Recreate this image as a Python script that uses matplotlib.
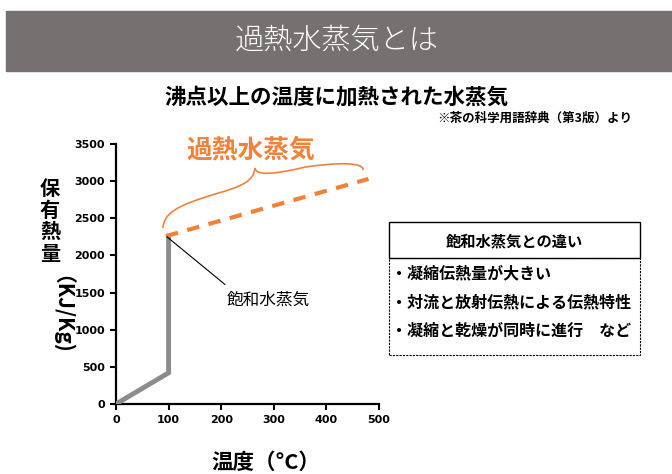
import matplotlib.pyplot as plt
from matplotlib.patches import Rectangle, PathPatch
from matplotlib.path import Path

plt.rcParams['font.family'] = ['Noto Sans CJK JP', 'DejaVu Sans']

# saturated water: heating up to the boiling point, then evaporation
sat_temp = [0, 100, 100]
sat_heat = [0, 420, 2260]

# superheated steam
sup_temp = [95, 480]
sup_heat = [2260, 3030]

x_ticks = [0, 100, 200, 300, 400, 500]
y_ticks = [0, 500, 1000, 1500, 2000, 2500, 3000, 3500]

diff_title = "飽和水蒸気との違い"
diff_items = ["・凝縮伝熱量が大きい",
              "・対流と放射伝熱による伝熱特性",
              "・凝縮と乾燥が同時に進行　など"]

W, H = 672, 474
ORANGE = '#f0823a'


def fx(px):
    return px / W


def fy(py):
    return 1 - py / H


fig = plt.figure(figsize=(W / 100, H / 100), dpi=100)

# banner
fig.patches.append(Rectangle((fx(6), fy(71)), fx(672 - 6), 60 / H,
                             transform=fig.transFigure, color='#767170', zorder=0))
fig.text(fx(337), fy(40), "過熱水蒸気とは", color='white', fontsize=21,
         fontweight='light', ha='center', va='center')

fig.text(fx(336), fy(97), "沸点以上の温度に加熱された水蒸気", fontsize=15.5,
         fontweight='bold', ha='center', va='center')
fig.text(fx(632), fy(118), "※茶の科学用語辞典（第3版）より", fontsize=9,
         fontweight='bold', ha='right', va='center')

ax = fig.add_axes([fx(116), fy(404), 263 / W, 260 / H])
ax.plot(sat_temp, sat_heat, color='#8c8c8c', lw=3.5, solid_joinstyle='miter', zorder=3)
ax.plot(sup_temp, sup_heat, color=ORANGE, lw=3, dashes=(3, 2.3), zorder=3)

ax.set_xlim(0, 500)
ax.set_ylim(0, 3500)
ax.set_xticks(x_ticks)
ax.set_yticks(y_ticks)
ax.tick_params(labelsize=8, width=1.5, length=4, direction='out', pad=4)
for lab in ax.get_xticklabels() + ax.get_yticklabels():
    lab.set_fontweight('bold')
    lab.set_family(['DejaVu Sans'])
for s in ['top', 'right']:
    ax.spines[s].set_visible(False)
for s in ['left', 'bottom']:
    ax.spines[s].set_linewidth(1.6)

# curly brace over the superheated range
verts = [(89, 2369),
         (92, 2560), (110, 2660), (190, 2830),
         (240, 2930), (262, 3000), (264, 3177),
         (267, 3070), (300, 3090), (360, 3190),
         (420, 3250), (470, 3260), (470, 3150)]
codes = [Path.MOVETO] + [Path.CURVE4] * 12
ax.add_patch(PathPatch(Path(verts, codes), fill=False, edgecolor=ORANGE,
                       lw=1.2, clip_on=False))
ax.text(257, 3420, "過熱水蒸気", color=ORANGE, fontsize=18.5, fontweight='bold',
        ha='center', va='center', clip_on=False)

# leader line to the saturated steam label
ax.plot([97, 207], [2250, 1610], color='black', lw=0.8, zorder=4)
ax.text(289, 1400, "飽和水蒸気", fontsize=12, ha='center', va='center')

# axis labels
fig.text(fx(50), fy(221), "保\n有\n熱\n量", fontsize=14.5, fontweight='bold',
         ha='center', va='center', linespacing=1.05)
fig.text(fx(50), fy(320), "（KJ/Kg)", fontsize=15, fontweight='bold',
         ha='center', va='center', rotation=-90)
fig.text(fx(266), fy(462), "温度（°C）", fontsize=15.5, fontweight='bold',
         ha='center', va='center')

# comparison box
bx0, bx1, by0, by1, bym = 389, 640, 222, 355, 258
fig.patches.append(Rectangle((fx(bx0), fy(bym)), (bx1 - bx0) / W, (bym - by0) / H,
                             transform=fig.transFigure, fill=False,
                             edgecolor='black', lw=1))
fig.patches.append(Rectangle((fx(bx0), fy(by1)), (bx1 - bx0) / W, (by1 - bym) / H,
                             transform=fig.transFigure, fill=False,
                             edgecolor='black', lw=0.8, linestyle=(0, (2, 1))))
fig.text(fx((bx0 + bx1) / 2), fy(241), diff_title, fontsize=11,
         fontweight='bold', ha='center', va='center')
for i, item in enumerate(diff_items):
    fig.text(fx(391), fy(273 + 29 * i), item, fontsize=11.5, fontweight='bold',
             ha='left', va='center')

fig.savefig('out.png', dpi=100, facecolor='white')
